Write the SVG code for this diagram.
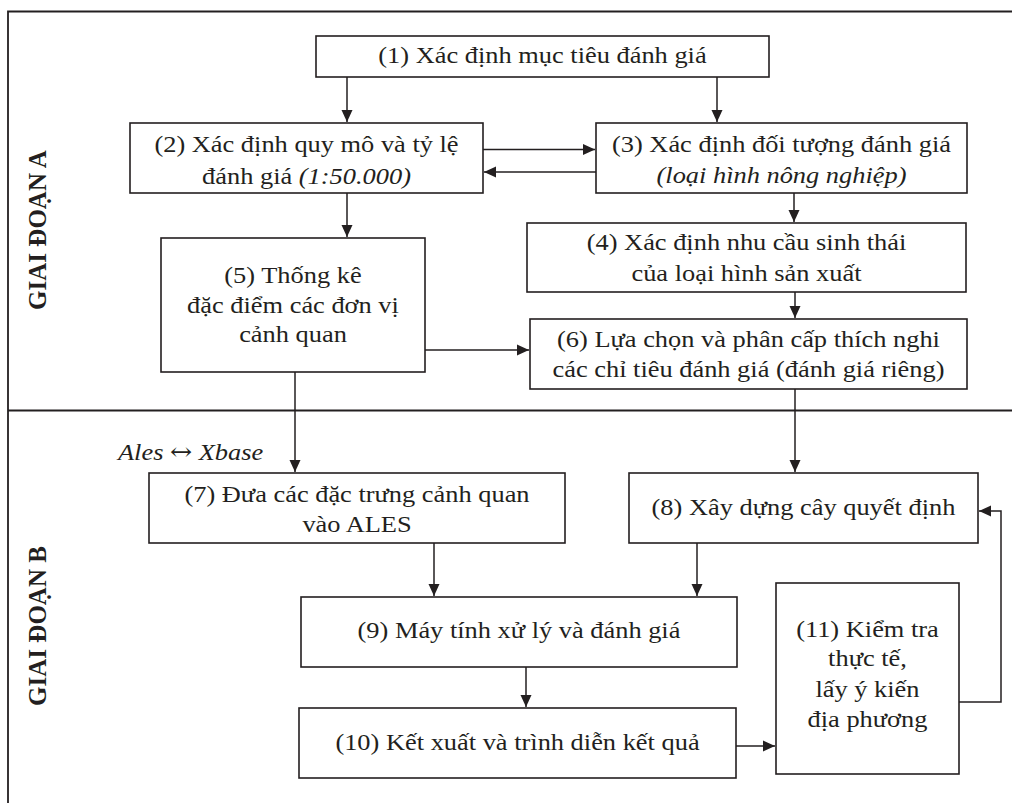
<svg xmlns="http://www.w3.org/2000/svg" width="1012" height="803" viewBox="0 0 1012 803">
<style>
.frame{fill:none;stroke:#231f20;stroke-width:1.8}
.box{fill:#fff;stroke:#231f20;stroke-width:1.6}
.t{font-family:"Liberation Serif","Times New Roman",serif;font-size:24px;fill:#231f20;text-anchor:middle}
.i{font-style:italic}
.lbl{font-family:"Liberation Serif","Times New Roman",serif;font-size:25px;font-weight:bold;fill:#231f20;text-anchor:middle}
.c{fill:none;stroke:#231f20;stroke-width:1.5}
</style>
<defs>
<marker id="ah" markerUnits="userSpaceOnUse" markerWidth="12" markerHeight="12" viewBox="0 0 12 12" refX="12" refY="6" orient="auto">
<path d="M0,0.5 L12,6 L0,11.5 Z" fill="#231f20"/>
</marker>
</defs>
<g id="frame">
<path class="frame" d="M8,803 L8,11.5 L1012,11.5"/>
<path class="frame" d="M8,410.5 L1012,410.5"/>
<text class="lbl" transform="translate(46,230) rotate(-90)">GIAI ĐOẠN A</text>
<text class="lbl" transform="translate(46,626) rotate(-90)">GIAI ĐOẠN B</text>
</g>
<g id="connectors">
<path class="c" marker-end="url(#ah)" d="M347,77 L347,122"/>
<path class="c" marker-end="url(#ah)" d="M717,77 L717,122"/>
<path class="c" marker-end="url(#ah)" d="M483,149.5 L595,149.5"/>
<path class="c" marker-end="url(#ah)" d="M596,172 L484,172"/>
<path class="c" marker-end="url(#ah)" d="M347,193 L347,237"/>
<path class="c" marker-end="url(#ah)" d="M794,193 L794,222"/>
<path class="c" marker-end="url(#ah)" d="M795,292 L795,318"/>
<path class="c" marker-end="url(#ah)" d="M425,350 L529,350"/>
<path class="c" marker-end="url(#ah)" d="M295,372 L295,472"/>
<path class="c" marker-end="url(#ah)" d="M795,389 L795,472"/>
<path class="c" marker-end="url(#ah)" d="M434,543 L434,596"/>
<path class="c" marker-end="url(#ah)" d="M697,543 L697,596"/>
<path class="c" marker-end="url(#ah)" d="M526,667 L526,707"/>
<path class="c" marker-end="url(#ah)" d="M736,746 L775,746"/>
<path class="c" marker-end="url(#ah)" d="M959,702 L1001,702 L1001,511 L979,511"/>
<g transform="scale(1.1,1)">
<text class="t i" style="text-anchor:start" x="107.27" y="460">Ales <tspan style="font-family:'DejaVu Serif',serif;font-style:normal;font-size:24px">↔</tspan> Xbase</text>
</g>
</g>
<g id="n1">
<rect class="box" x="316" y="36" width="453" height="41"/>
<g transform="scale(1.1,1)"><text class="t" x="493.18" y="63.5">(1) Xác định mục tiêu đánh giá</text></g>
</g>
<g id="n2">
<rect class="box" x="130" y="123" width="353" height="70"/>
<g transform="scale(1.1,1)">
<text class="t" x="278.64" y="152">(2) Xác định quy mô và tỷ lệ</text>
<text class="t" x="278.64" y="184">đánh giá <tspan class="i">(1:50.000)</tspan></text>
</g>
</g>
<g id="n3">
<rect class="box" x="596" y="123" width="371" height="70"/>
<g transform="scale(1.1,1)">
<text class="t" x="710.45" y="152">(3) Xác định đối tượng đánh giá</text>
<text class="t i" x="710.45" y="183">(loại hình nông nghiệp)</text>
</g>
</g>
<g id="n4">
<rect class="box" x="527" y="223" width="439" height="69"/>
<g transform="scale(1.1,1)">
<text class="t" x="678.64" y="250">(4) Xác định nhu cầu sinh thái</text>
<text class="t" x="678.64" y="281">của loại hình sản xuất</text>
</g>
</g>
<g id="n5">
<rect class="box" x="161" y="238" width="264" height="134"/>
<g transform="scale(1.1,1)">
<text class="t" x="266.36" y="283">(5) Thống kê</text>
<text class="t" x="266.36" y="313">đặc điểm các đơn vị</text>
<text class="t" x="266.36" y="342">cảnh quan</text>
</g>
</g>
<g id="n6">
<rect class="box" x="530" y="319" width="437" height="70"/>
<g transform="scale(1.1,1)">
<text class="t" x="680.45" y="347">(6) Lựa chọn và phân cấp thích nghi</text>
<text class="t" x="680.45" y="377">các chỉ tiêu đánh giá (đánh giá riêng)</text>
</g>
</g>
<g id="n7">
<rect class="box" x="149" y="473" width="416" height="70"/>
<g transform="scale(1.1,1)">
<text class="t" x="324.55" y="502">(7) Đưa các đặc trưng cảnh quan</text>
<text class="t" x="324.55" y="532">vào ALES</text>
</g>
</g>
<g id="n8">
<rect class="box" x="629" y="473" width="349" height="70"/>
<g transform="scale(1.1,1)"><text class="t" x="730.45" y="515">(8) Xây dựng cây quyết định</text></g>
</g>
<g id="n9">
<rect class="box" x="301" y="597" width="436" height="70"/>
<g transform="scale(1.1,1)"><text class="t" x="471.82" y="638">(9) Máy tính xử lý và đánh giá</text></g>
</g>
<g id="n10">
<rect class="box" x="299" y="708" width="437" height="70"/>
<g transform="scale(1.1,1)"><text class="t" x="470.45" y="750">(10) Kết xuất và trình diễn kết quả</text></g>
</g>
<g id="n11">
<rect class="box" x="776" y="583" width="183" height="191"/>
<g transform="scale(1.1,1)">
<text class="t" x="788.64" y="637">(11) Kiểm tra</text>
<text class="t" x="788.64" y="666">thực tế,</text>
<text class="t" x="788.64" y="697">lấy ý kiến</text>
<text class="t" x="788.64" y="727">địa phương</text>
</g>
</g>
</svg>
